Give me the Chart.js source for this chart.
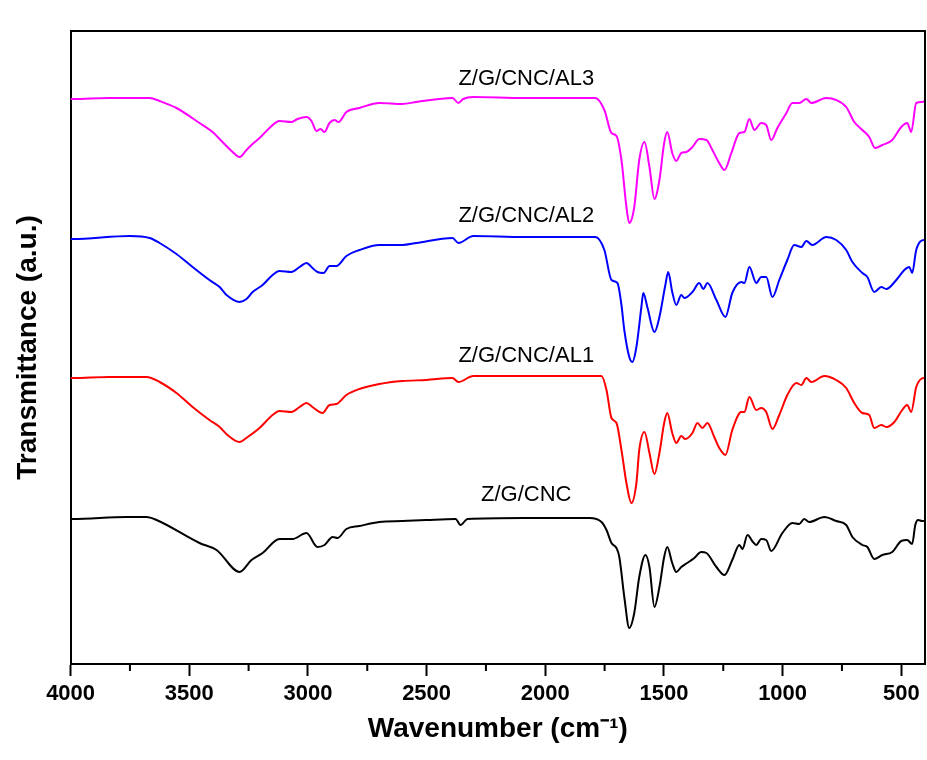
<!DOCTYPE html>
<html lang="en">

<head>
  <meta charset="UTF-8" />
  <title>FTIR spectra</title>
  <script src="https://cdn.jsdelivr.net/npm/chart.js"></script>
  <style>
    body { margin: 0; background: #fff; }
    .chart-box { width: 927px; height: 760px; }
  </style>
</head>

<body>
  <div class="chart-box">
    <canvas id="ftirChart"></canvas>
  </div>

  <script>
    // Z/G/CNC/AL3 (magenta)
    const wnAL3 = [4000, 3992, 3836, 3667, 3625, 3554, 3457, 3402, 3360, 3322, 3288, 3259, 3238, 3204, 3162, 3120, 3069, 3044, 3006, 2985, 2964, 2947, 2930, 2909, 2888, 2871, 2838, 2783, 2699, 2602, 2543, 2391, 2366, 2346, 2303, 2092, 1856, 1789, 1751, 1721, 1700, 1679, 1658, 1646, 1625, 1604, 1582, 1561, 1540, 1519, 1499, 1486, 1465, 1448, 1427, 1406, 1380, 1351, 1321, 1296, 1267, 1245, 1216, 1182, 1161, 1140, 1119, 1090, 1069, 1048, 1022, 984, 959, 930, 900, 879, 816, 774, 732, 698, 664, 635, 610, 580, 538, 500, 475, 458, 437, 412, 400];
    const tAL3 = [565, 565, 566, 566, 563, 556, 541, 532, 522, 513, 507, 514, 519, 526, 536, 543, 542, 545, 547, 543, 533, 535, 532, 541, 544, 542, 552, 556, 561, 560, 562, 566, 561, 565, 567, 566, 566, 566, 554, 531, 528, 504, 457, 441, 457, 504, 522, 497, 465, 484, 521, 532, 511, 503, 511, 512, 517, 525, 524, 514, 501, 494, 511, 531, 532, 545, 534, 541, 539, 524, 536, 551, 561, 561, 565, 561, 566, 564, 557, 542, 534, 527, 516, 519, 524, 537, 541, 532, 561, 562, 563];

    // Z/G/CNC/AL2 (blue)
    const wnAL2 = [4000, 3992, 3751, 3667, 3625, 3554, 3486, 3415, 3372, 3343, 3288, 3259, 3233, 3191, 3149, 3120, 3069, 3035, 3006, 2981, 2960, 2934, 2909, 2880, 2838, 2783, 2699, 2602, 2543, 2391, 2366, 2303, 2092, 1789, 1751, 1721, 1696, 1679, 1667, 1646, 1633, 1616, 1595, 1587, 1570, 1540, 1519, 1494, 1482, 1465, 1448, 1427, 1414, 1380, 1351, 1334, 1317, 1279, 1241, 1212, 1174, 1161, 1140, 1111, 1090, 1069, 1043, 1014, 980, 951, 921, 900, 875, 816, 774, 732, 706, 664, 643, 614, 584, 563, 521, 487, 466, 454, 437, 403, 400];
    const tAL2 = [425, 425, 428, 426, 421, 410, 397, 384, 377, 369, 362, 365, 372, 379, 389, 393, 392, 397, 401, 396, 392, 391, 398, 398, 408, 414, 419, 419, 421, 426, 421, 428, 427, 427, 414, 384, 381, 359, 334, 307, 302, 317, 357, 371, 357, 332, 347, 379, 392, 372, 359, 369, 366, 372, 381, 375, 381, 364, 347, 371, 382, 381, 397, 381, 387, 387, 367, 384, 404, 419, 417, 423, 419, 427, 424, 414, 402, 391, 387, 372, 377, 375, 384, 394, 397, 391, 414, 424, 424];

    // Z/G/CNC/AL1 (red)
    const wnAL1 = [4000, 3992, 3836, 3680, 3625, 3554, 3486, 3415, 3372, 3339, 3288, 3254, 3204, 3149, 3120, 3069, 3035, 3006, 2981, 2939, 2909, 2880, 2838, 2783, 2699, 2602, 2501, 2391, 2366, 2303, 2092, 1763, 1742, 1721, 1700, 1679, 1658, 1637, 1616, 1604, 1582, 1561, 1540, 1519, 1499, 1486, 1465, 1448, 1427, 1410, 1380, 1359, 1338, 1317, 1288, 1267, 1241, 1212, 1174, 1161, 1140, 1111, 1090, 1069, 1043, 1014, 980, 942, 921, 900, 879, 824, 774, 732, 698, 664, 635, 614, 584, 563, 529, 496, 475, 458, 437, 403, 400];
    const tAL1 = [286, 286, 287, 287, 282, 271, 257, 244, 237, 229, 222, 227, 236, 249, 253, 252, 257, 261, 257, 251, 259, 260, 269, 275, 280, 283, 284, 286, 282, 288, 288, 288, 274, 246, 241, 214, 181, 161, 181, 214, 232, 211, 190, 211, 241, 251, 231, 221, 228, 225, 231, 241, 236, 241, 227, 216, 209, 234, 252, 252, 267, 254, 256, 252, 235, 249, 269, 281, 279, 286, 282, 288, 284, 276, 261, 251, 249, 236, 239, 237, 242, 254, 259, 252, 277, 286, 286];

    // Z/G/CNC (black)
    const wnCNC = [4000, 3992, 3764, 3680, 3638, 3457, 3385, 3288, 3238, 3191, 3120, 3065, 3006, 2960, 2930, 2896, 2875, 2838, 2783, 2699, 2602, 2501, 2378, 2357, 2328, 2092, 1814, 1763, 1742, 1721, 1700, 1688, 1667, 1646, 1625, 1604, 1578, 1561, 1540, 1519, 1499, 1486, 1465, 1448, 1427, 1402, 1372, 1343, 1321, 1279, 1245, 1212, 1182, 1169, 1148, 1125, 1111, 1090, 1069, 1048, 1001, 959, 930, 909, 888, 824, 774, 732, 706, 664, 643, 614, 580, 538, 500, 475, 454, 441, 429, 412, 400];
    const tCNC = [145, 145, 147, 147, 144, 121, 114, 92, 104, 111, 125, 125, 131, 117, 119, 127, 126, 135, 138, 142, 143, 144, 145, 139, 145, 146, 146, 142, 134, 121, 116, 107, 67, 36, 51, 87, 109, 97, 57, 77, 107, 117, 101, 92, 97, 101, 106, 112, 111, 97, 89, 104, 119, 115, 129, 122, 119, 125, 124, 113, 131, 141, 140, 145, 142, 147, 143, 139, 127, 119, 117, 105, 109, 112, 123, 124, 120, 139, 144, 143, 143];

    // curve captions (wavenumber, transmittance where each caption sits)
    const captions = ['Z/G/CNC/AL3', 'Z/G/CNC/AL2', 'Z/G/CNC/AL1', 'Z/G/CNC'];
    const captionWn = [2080, 2080, 2080, 2080];
    const captionT = [585, 448, 308, 169];

    const toPoints = (xs, ys) => xs.map((x, i) => ({ x: x, y: ys[i] }));

    Chart.defaults.font.family = "'Liberation Sans', Arial, sans-serif";
    Chart.defaults.color = '#000';

    // frame on top/right, short minor ticks, curve captions
    const frameAndCaptions = {
      id: 'frameAndCaptions',
      afterDraw(chart) {
        const { ctx, chartArea: a, scales: { x, y } } = chart;
        ctx.save();
        ctx.strokeStyle = '#000';
        ctx.lineWidth = 2;
        ctx.beginPath();
        ctx.moveTo(a.left, a.top);
        ctx.lineTo(a.right, a.top);
        ctx.lineTo(a.right, a.bottom);
        ctx.stroke();

        ctx.beginPath();
        x.ticks.forEach(t => {
          if (t.value % 500 !== 0) {
            const px = x.getPixelForValue(t.value);
            ctx.moveTo(px, a.bottom);
            ctx.lineTo(px, a.bottom + 7);
          }
        });
        ctx.stroke();

        ctx.fillStyle = '#000';
        ctx.font = "22px 'Liberation Sans', Arial, sans-serif";
        ctx.textAlign = 'center';
        ctx.textBaseline = 'middle';
        captions.forEach((c, i) => {
          ctx.fillText(c, x.getPixelForValue(captionWn[i]), y.getPixelForValue(captionT[i]));
        });
        ctx.restore();
      }
    };

    const line = (xs, ys, color) => ({
      data: toPoints(xs, ys),
      borderColor: color,
      backgroundColor: color,
      borderWidth: 2,
      pointRadius: 0,
      cubicInterpolationMode: 'monotone',
      fill: false
    });

    new Chart(document.getElementById('ftirChart'), {
      type: 'line',
      data: {
        datasets: [
          line(wnAL3, tAL3, '#ff00ff'),
          line(wnAL2, tAL2, '#0000ff'),
          line(wnAL1, tAL1, '#ff0000'),
          line(wnCNC, tCNC, '#000000')
        ]
      },
      options: {
        responsive: true,
        maintainAspectRatio: false,
        animation: false,
        devicePixelRatio: 1,
        layout: { padding: { top: 31, right: 2, bottom: 0, left: 10 } },
        plugins: { legend: { display: false }, tooltip: { enabled: false } },
        scales: {
          x: {
            type: 'linear',
            reverse: true,
            min: 400,
            max: 4000,
            border: { display: true, color: '#000', width: 2 },
            grid: {
              drawOnChartArea: false,
              drawTicks: true,
              tickLength: 12,
              tickWidth: 2,
              tickColor: c => (c.tick && c.tick.value % 500 === 0) ? '#000' : 'rgba(0,0,0,0)'
            },
            ticks: {
              stepSize: 250,
              maxTicksLimit: 20,
              includeBounds: false,
              autoSkip: false,
              maxRotation: 0,
              padding: 5,
              font: { size: 22, weight: 'bold' },
              callback: v => (v % 500 === 0 ? String(v) : '')
            },
            title: {
              display: true,
              text: 'Wavenumber (cm\u207B\u00B9)',
              font: { size: 28, weight: 'bold' },
              padding: { top: 0, bottom: 14 }
            }
          },
          y: {
            min: 0,
            max: 633,
            border: { display: true, color: '#000', width: 2 },
            grid: { display: false, drawTicks: false },
            ticks: { display: false },
            title: {
              display: true,
              text: 'Transmittance (a.u.)',
              font: { size: 28, weight: 'bold' },
              padding: { top: 1, bottom: 26 }
            }
          }
        }
      },
      plugins: [frameAndCaptions]
    });
  </script>
</body>

</html>
